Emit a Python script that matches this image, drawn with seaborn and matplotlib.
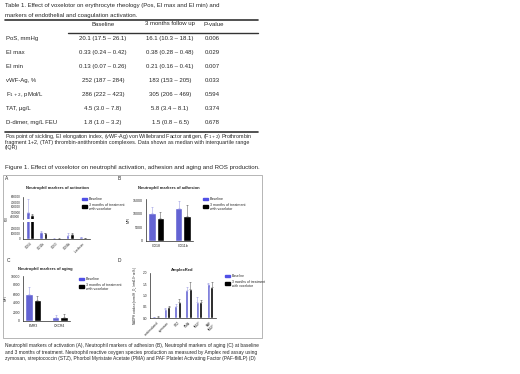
import numpy as np
import pandas as pd
import matplotlib
matplotlib.use('Agg')
import matplotlib.pyplot as plt
import seaborn as sns

# 表格数据 Table 1
tab_title = ["Table 1. Effect of voxelotor on erythrocyte rheology (Pos, EI max and EI min) and",
             "markers of endothelial and coagulation activation."]
tab_header = ["Baseline", "3 months follow up", "P-value"]
row_names = ["PoS, mmHg", "EI max", "EI min", "vWF-Ag, %", "F$_{1+2}$, pMol/L", "TAT, \u00b5g/L", "D-dimer, mg/L FEU"]
baseline_txt = ["20.1 (17.5 \u2013 26.1)", "0.33 (0.24 \u2013 0.42)", "0.13 (0.07 \u2013 0.26)", "252 (187 \u2013 284)",
                "286 (222 \u2013 423)", "4.5 (3.0 \u2013 7.8)", "1.8 (1.0 \u2013 3.2)"]
followup_txt = ["16.1 (10.3 \u2013 18.1)", "0.38 (0.28 \u2013 0.48)", "0.21 (0.16 \u2013 0.41)", "183 (153 \u2013 205)",
                "305 (206 \u2013 469)", "5.8 (3.4 \u2013 8.1)", "1.5 (0.8 \u2013 6.5)"]
p_values = ["0.006", "0.029", "0.007", "0.033", "0.594", "0.374", "0.678"]
tab_foot = ["Pos point of sickling, EI elongation index, (vWF-Ag) von Willebrand Factor antigen, (F$_{1+2}$) Prothrombin",
            "fragment 1+2, (TAT) thrombin-antithrombin complexes. Data shown as median with interquartile range",
            "(IQR)"]
fig_title = "Figure 1. Effect of voxelotor on neutrophil activation, adhesion and aging and ROS production."
fig_caption = ["Neutrophil markers of activation (A), Neutrophil markers of adhesion (B), Neutrophil markers of aging (C) at baseline",
               "and 3 months of treatment. Neutrophil reactive oxygen species production as measured by Amplex red assay using",
               "zymosan, streptococcin (STZ), Phorbol Myristate Acetate (PMA) and PAF Platelet Activating Factor (PAF-fMLP) (D)"]

groups = ["Baseline", "3 months of treatment\nwith voxelotor"]

# A 激活
act_labels = ["CD64", "CD11b", "CD63", "CD66b", "L-selectin"]
act_base = [500000, 145000, 8000, 70000, 30000]
act_base_sd = [260000, 20000, 3000, 40000, 10000]
act_trt = [440000, 110000, 9000, 90000, 20000]
act_trt_sd = [30000, 15000, 3000, 30000, 8000]

# B 黏附
adh_labels = ["CD18", "CD11b"]
adh_base = [10500, 12000]
adh_base_sd = [2000, 2700]
adh_trt = [8500, 9200]
adh_trt_sd = [2200, 4200]

# C 老化
age_labels = ["EMR3", "CXCR4"]
age_base = [5950, 900]
age_base_sd = [1650, 400]
age_trt = [4670, 1000]
age_trt_sd = [880, 500]

# D AmplexRed
amp_labels = ["unstimulated", "zymosan", "STZ", "PMA", "fMLP", "PAF\nfMLP"]
amp_base = [0.03, 0.39, 0.55, 1.24, 0.72, 1.50]
amp_base_sd = [0.02, 0.05, 0.07, 0.16, 0.23, 0.07]
amp_trt = [0.06, 0.49, 0.70, 1.27, 0.72, 1.36]
amp_trt_sd = [0.02, 0.06, 0.14, 0.33, 0.06, 0.24]

blue = '#5050e6'
pal = [blue, 'black']

sns.set_style('white')
plt.rcParams['font.family'] = ['Liberation Sans', 'DejaVu Sans']

W, H = 520, 374
fig = plt.figure(figsize=(5.2, 3.74), dpi=100)

def px(x0, y0, x1, y1):
    return [x0 / W, 1 - y1 / H, (x1 - x0) / W, (y1 - y0) / H]

def ftext(x, y, s, **kw):
    fig.text(x / W, 1 - y / H, s, va='center', **kw)

def fline(x0, x1, y, lw=1.0, color='#333333'):
    fig.add_artist(plt.Line2D([x0 / W, x1 / W], [1 - y / H, 1 - y / H], lw=lw, color=color))

# ---- 表格 ----
fs = 4.3
ftext(5, 6, tab_title[0], fontsize=4.35)
ftext(5, 15, tab_title[1], fontsize=4.35)
fline(5, 258, 19.5, lw=1.2)
ftext(103, 24, tab_header[0], fontsize=fs, ha='center')
ftext(170, 24, tab_header[1], fontsize=fs, ha='center')
ftext(203, 24, tab_header[2], fontsize=fs)
fline(68, 258, 33, lw=1.0)
for i in range(len(row_names)):
    y = 38.5 + 14 * i
    ftext(6, y, row_names[i], fontsize=fs)
    ftext(103, y, baseline_txt[i], fontsize=fs, ha='center')
    ftext(170, y, followup_txt[i], fontsize=fs, ha='center')
    ftext(205, y, p_values[i], fontsize=fs)
fline(5, 258, 132, lw=1.2)
for i, s in enumerate(tab_foot):
    ftext(5, 136.5 + 5.7 * i, s, fontsize=3.9)
ftext(5, 167, fig_title, fontsize=4.4)
for i, s in enumerate(fig_caption):
    ftext(5, 345.5 + 6.7 * i, s, fontsize=3.5)

# 图框
box = plt.Rectangle((3 / W, 1 - 338 / H), 259 / W, 163 / H, transform=fig.transFigure,
                    fill=False, lw=0.5, edgecolor='#999999')
fig.add_artist(box)


def bars(ax, labels, base, base_sd, trt, trt_sd, tfs):
    df = pd.DataFrame({'marker': labels * 2,
                       'group': [groups[0]] * len(labels) + [groups[1]] * len(labels),
                       'value': base + trt})
    sns.barplot(data=df, x='marker', y='value', hue='group', palette=pal, errorbar=None,
                width=0.65, gap=0.15, ax=ax, legend=False)
    sds = base_sd + trt_sd
    for p, v, sd in zip(ax.patches, base + trt, sds):
        xc = p.get_x() + p.get_width() / 2
        ax.errorbar(xc, v, yerr=[[0], [sd]], color=p.get_facecolor(), lw=0.4, capsize=0.8,
                    capthick=0.4, alpha=0.6)
    ax.set_xlabel('')
    sns.despine(ax=ax)
    for s in ax.spines.values():
        s.set_linewidth(0.5)
    ax.tick_params(axis='both', labelsize=tfs, length=1.2, width=0.4, pad=0.8)


def legend(x, y, lfs):
    fig.add_artist(plt.Rectangle(((x - 3) / W, 1 - (y + 1) / H), 5 / W, 2 / H,
                                 transform=fig.transFigure, color=blue))
    ftext(x + 4, y, groups[0], fontsize=lfs)
    fig.add_artist(plt.Rectangle(((x - 3) / W, 1 - (y + 9) / H), 5 / W, 3.5 / H,
                                 transform=fig.transFigure, color='black'))
    ftext(x + 4, y + 6, '3 months of treatment', fontsize=lfs)
    ftext(x + 4, y + 10, 'with voxelotor', fontsize=lfs)


def title(x, y, s, tfs=3.0):
    ftext(x, y, s, fontsize=tfs, fontweight='bold', ha='center')

# ---- A 断轴 ----
axA1 = fig.add_axes(px(23, 197, 90, 219))
axA2 = fig.add_axes(px(23, 222, 90, 239))
bars(axA1, act_labels, act_base, act_base_sd, act_trt, act_trt_sd, 2.2)
bars(axA2, act_labels, act_base, act_base_sd, act_trt, act_trt_sd, 2.2)
axA1.set_ylim(360000, 800000)
axA1.set_yticks([400000, 500000, 600000, 700000, 800000])
axA1.spines['bottom'].set_visible(False)
axA1.tick_params(axis='x', bottom=False, labelbottom=False)
axA1.set_ylabel('')
axA2.set_ylim(0, 330000)
axA2.set_yticks([0, 100000, 200000])
axA2.set_ylabel('')
axA2.tick_params(axis='x', labelrotation=45)
for t in axA2.get_xticklabels():
    t.set_ha('right')
    t.set_rotation_mode('anchor')
ftext(7, 218, 'MFI', fontsize=2.2, rotation=90, ha='center')
ftext(5, 178, 'A', fontsize=3.5)
title(57, 188, 'Neutrophil markers of activation')
legend(85, 199, 2.6)

# ---- B ----
axB = fig.add_axes(px(146, 199, 193, 241))
bars(axB, adh_labels, adh_base, adh_base_sd, adh_trt, adh_trt_sd, 2.6)
axB.set_ylim(0, 15500)
axB.set_yticks([0, 5000, 10000, 15000])
axB.set_ylabel('MFI', fontsize=2.6, labelpad=2)
ftext(118, 178, 'B', fontsize=3.5)
title(169, 188, 'Neutrophil markers of adhesion')
legend(206, 199, 2.6)

# ---- C ----
axC = fig.add_axes(px(23, 276, 70, 321))
bars(axC, age_labels, age_base, age_base_sd, age_trt, age_trt_sd, 2.4)
axC.set_ylim(0, 10000)
axC.set_yticks([0, 2000, 4000, 6000, 8000, 10000])
axC.set_ylabel('MFI', fontsize=2.4, labelpad=2)
ftext(7, 261, 'C', fontsize=3.5)
title(45, 269, 'Neutrophil markers of aging')
legend(82, 279, 2.6)

# ---- D ----
axD = fig.add_axes(px(150, 273, 216, 318))
bars(axD, amp_labels, amp_base, amp_base_sd, amp_trt, amp_trt_sd, 2.3)
axD.set_ylim(0, 2.0)
axD.set_yticks([0.0, 0.5, 1.0, 1.5, 2.0])
axD.set_yticklabels(['0.0', '0.5', '1.0', '1.5', '2.0'])
axD.set_ylabel('NADPH oxidase (nmol H$_2$O$_2$/min/10$^6$ cells)', fontsize=2.2, labelpad=2)
axD.tick_params(axis='x', labelrotation=45)
for t in axD.get_xticklabels():
    t.set_ha('right')
    t.set_rotation_mode('anchor')
ftext(118, 261, 'D', fontsize=3.5)
title(182, 270, 'AmplexRed')
legend(228, 276, 2.4)

plt.savefig('out.png', dpi=100)
